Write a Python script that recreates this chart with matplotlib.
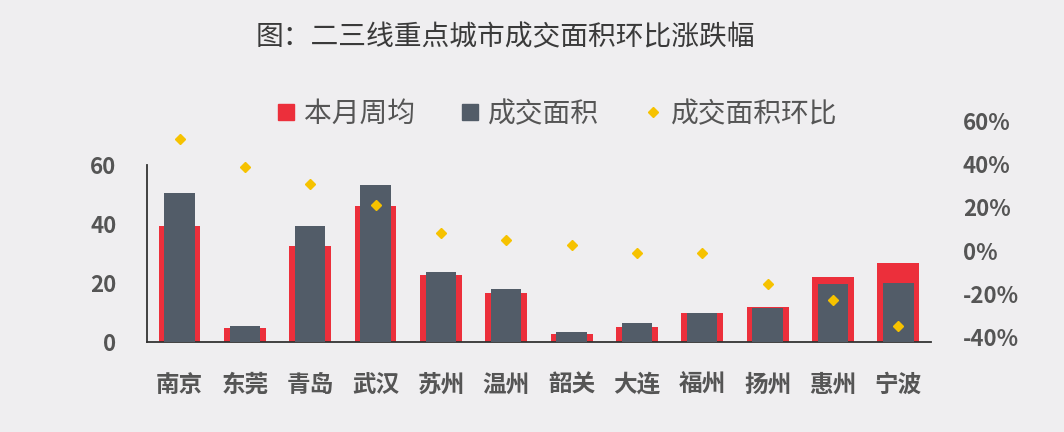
import matplotlib.pyplot as plt
from matplotlib.lines import Line2D
import numpy as np

plt.rcParams['font.family'] = ['Noto Sans CJK SC', 'DejaVu Sans']

cities = ['南京', '东莞', '青岛', '武汉', '苏州', '温州', '韶关', '大连', '福州', '扬州', '惠州', '宁波']
weekly_avg = [39.5, 4.8, 32.5, 46.3, 22.6, 16.8, 2.6, 5.2, 9.9, 12.0, 21.9, 26.8]   # 本月周均
deal_area = [50.6, 5.4, 39.5, 53.2, 23.7, 18.0, 3.3, 6.4, 10.0, 11.4, 19.7, 20.1]   # 成交面积
mom_change = [0.515, 0.386, 0.309, 0.211, 0.084, 0.047, 0.025, -0.011, -0.011, -0.156, -0.229, -0.35]  # 环比

bg = '#efeef0'
red = '#ec2f3b'
grey = '#525c68'
gold = '#f6c200'
txt = '#555555'

fig = plt.figure(figsize=(10.64, 4.32), dpi=100, facecolor=bg)
ax = fig.add_axes([0.138, 0.2083, 0.737, 0.5185])
ax.set_facecolor(bg)

x = np.arange(len(cities))
ax.bar(x, weekly_avg, width=0.64, color=red, zorder=2)
ax.bar(x, deal_area, width=0.465, color=grey, zorder=3)

ax.set_xlim(-0.5, len(cities) - 0.5)
ax.set_ylim(0, 76)
ax.set_yticks([0, 20, 40, 60])
ax.set_xticks(x)
ax.set_xticklabels(cities, fontsize=17, fontweight='bold', color=txt)
ax.tick_params(axis='x', length=0, pad=22)
ax.tick_params(axis='y', length=0, pad=22, labelsize=16, labelcolor=txt)
for lbl in ax.get_yticklabels():
    lbl.set_fontweight('bold')

for s in ['top', 'right']:
    ax.spines[s].set_visible(False)
ax.spines['left'].set_bounds(0, 60)
ax.spines['left'].set_color('#333333')
ax.spines['bottom'].set_color('#333333')
ax.spines['left'].set_linewidth(1.3)
ax.spines['bottom'].set_linewidth(1.3)

# right axis for the month-on-month change
ax2 = ax.twinx()
ax2.plot(x, mom_change, linestyle='none', marker='D', markersize=5.5,
         color=gold, zorder=4)
ax2.set_ylim(-0.423, 0.614)
ax2.set_yticks([-0.4, -0.2, 0, 0.2, 0.4, 0.6])
ax2.set_yticklabels(['-40%', '-20%', '0%', '20%', '40%', '60%'])
ax2.tick_params(axis='y', length=0, pad=23, labelsize=16, labelcolor=txt)
for lbl in ax2.get_yticklabels():
    lbl.set_fontweight('bold')
for s in ax2.spines.values():
    s.set_visible(False)

fig.text(505 / 1064, 1 - 37 / 432, '图：二三线重点城市成交面积环比涨跌幅',
         ha='center', va='center', fontsize=20, color='#3a3a3a')

handles = [
    Line2D([], [], linestyle='none', marker='s', markersize=12, color=red),
    Line2D([], [], linestyle='none', marker='s', markersize=12, color=grey),
    Line2D([], [], linestyle='none', marker='D', markersize=5.5, color=gold),
]
fig.legend(handles, ['本月周均', '成交面积', '成交面积环比'],
           loc='center', bbox_to_anchor=(557 / 1064, 1 - 114 / 432),
           ncol=3, frameon=False, fontsize=20, labelcolor=txt,
           handlelength=0.7, handletextpad=0.3, columnspacing=1.6)

fig.savefig('out.png', dpi=100, facecolor=bg)
